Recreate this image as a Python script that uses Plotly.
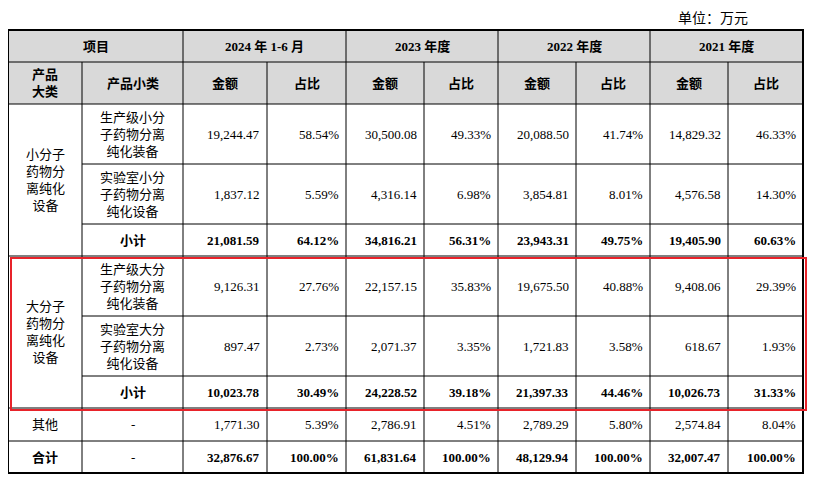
import plotly.graph_objects as go

years = ["2024 年 1-6 月", "2023 年度", "2022 年度", "2021 年度"]
groups = ["小分子<br>药物分<br>离纯化<br>设备", "大分子<br>药物分<br>离纯化<br>设备"]
subcats = ["生产级小分<br>子药物分离<br>纯化装备", "实验室小分<br>子药物分离<br>纯化设备", "小计",
           "生产级大分<br>子药物分离<br>纯化装备", "实验室大分<br>子药物分离<br>纯化设备", "小计",
           "-", "-"]
amounts = [
    ["19,244.47", "30,500.08", "20,088.50", "14,829.32"],
    ["1,837.12", "4,316.14", "3,854.81", "4,576.58"],
    ["21,081.59", "34,816.21", "23,943.31", "19,405.90"],
    ["9,126.31", "22,157.15", "19,675.50", "9,408.06"],
    ["897.47", "2,071.37", "1,721.83", "618.67"],
    ["10,023.78", "24,228.52", "21,397.33", "10,026.73"],
    ["1,771.30", "2,786.91", "2,789.29", "2,574.84"],
    ["32,876.67", "61,831.64", "48,129.94", "32,007.47"],
]
shares = [
    ["58.54%", "49.33%", "41.74%", "46.33%"],
    ["5.59%", "6.98%", "8.01%", "14.30%"],
    ["64.12%", "56.31%", "49.75%", "60.63%"],
    ["27.76%", "35.83%", "40.88%", "29.39%"],
    ["2.73%", "3.35%", "3.58%", "1.93%"],
    ["30.49%", "39.18%", "44.46%", "31.33%"],
    ["5.39%", "4.51%", "5.80%", "8.04%"],
    ["100.00%", "100.00%", "100.00%", "100.00%"],
]
bold_rows = [2, 5, 7]

xe = [8, 82, 183, 267, 346, 424, 498, 576, 650, 728, 803]
ye = [30, 62, 104, 164, 224, 256, 316, 376, 408, 441, 473]

FONT = "Times New Roman, Liberation Serif, Noto Sans CJK SC"
shapes, ann = [], []

def line(x0, y0, x1, y1, w=1):
    shapes.append(dict(type="line", x0=x0, y0=y0, x1=x1, y1=y1, line=dict(color="black", width=w)))

def text(x, y, t, anchor="center", bold=False, size=13):
    if bold:
        t = "<b>" + t + "</b>"
    ann.append(dict(x=x, y=y, text=t, showarrow=False, xanchor=anchor, yanchor="middle",
                    align="center", font=dict(family=FONT, size=size, color="black")))

shapes.append(dict(type="rect", x0=xe[0], y0=ye[0], x1=xe[-1], y1=ye[2], fillcolor="#d9d9d9",
                   line=dict(width=0), layer="below"))
line(xe[0], ye[1], xe[-1], ye[1])
line(xe[0], ye[2], xe[-1], ye[2])
for i in [3, 4, 6, 7]:
    line(xe[1], ye[i], xe[-1], ye[i])
for i in [5, 8, 9]:
    line(xe[0], ye[i], xe[-1], ye[i])
for j in range(1, 10):
    y0 = ye[0] if j in (2, 4, 6, 8) else ye[1]
    line(xe[j], y0, xe[j], ye[-1])
shapes.append(dict(type="rect", x0=xe[0], y0=ye[0], x1=xe[-1], y1=ye[-1], line=dict(color="black", width=2)))
shapes.append(dict(type="rect", x0=11, y0=258, x1=806, y1=410, line=dict(color="#e8232a", width=2)))

text((xe[0] + xe[2]) / 2, (ye[0] + ye[1]) / 2, "项目", bold=True)
for k, yname in enumerate(years):
    text((xe[2 + 2 * k] + xe[4 + 2 * k]) / 2, (ye[0] + ye[1]) / 2, yname, bold=True)
    text((xe[2 + 2 * k] + xe[3 + 2 * k]) / 2, (ye[1] + ye[2]) / 2, "金额", bold=True)
    text((xe[3 + 2 * k] + xe[4 + 2 * k]) / 2, (ye[1] + ye[2]) / 2, "占比", bold=True)
text((xe[0] + xe[1]) / 2, (ye[1] + ye[2]) / 2, "产品<br>大类", bold=True)
text((xe[1] + xe[2]) / 2, (ye[1] + ye[2]) / 2, "产品小类", bold=True)

text((xe[0] + xe[1]) / 2, (ye[2] + ye[5]) / 2, groups[0])
text((xe[0] + xe[1]) / 2, (ye[5] + ye[8]) / 2, groups[1])
text((xe[0] + xe[1]) / 2, (ye[8] + ye[9]) / 2, "其他")
text((xe[0] + xe[1]) / 2, (ye[9] + ye[10]) / 2, "合计", bold=True)

for r in range(8):
    yc = (ye[2 + r] + ye[3 + r]) / 2
    b = r in bold_rows
    text((xe[1] + xe[2]) / 2, yc, subcats[r], bold=(subcats[r] == "小计"))
    for k in range(4):
        text(xe[3 + 2 * k] - 5, yc, amounts[r][k], anchor="right", bold=b)
        text(xe[4 + 2 * k] - 5, yc, shares[r][k], anchor="right", bold=b)

ann.append(dict(x=750, y=17, text="单位：万元", showarrow=False, xanchor="right", yanchor="middle",
                font=dict(family="Noto Sans CJK SC", size=14, color="black")))

fig = go.Figure()
fig.update_layout(width=807, height=479, margin=dict(l=0, r=0, t=0, b=0),
                  plot_bgcolor="white", paper_bgcolor="white",
                  xaxis=dict(range=[8, 815], visible=False, fixedrange=True),
                  yaxis=dict(range=[487, 8], visible=False, fixedrange=True),
                  shapes=shapes, annotations=ann, showlegend=False)
fig.write_html("out.html")
